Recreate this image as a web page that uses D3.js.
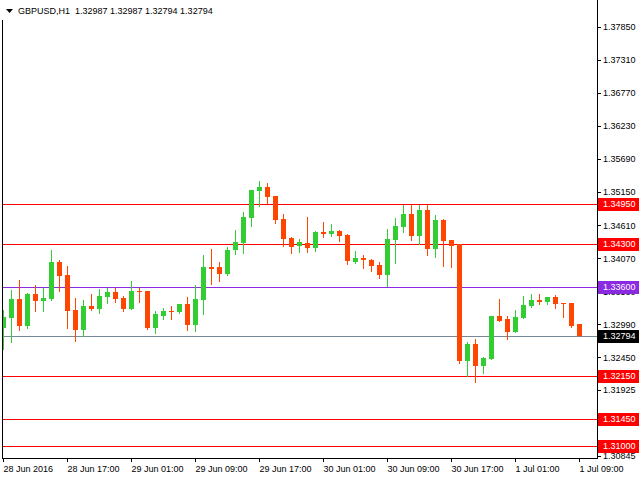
<!DOCTYPE html>
<html><head><meta charset="utf-8">
<script src="https://cdn.jsdelivr.net/npm/d3@7"></script>
<style>
html,body{margin:0;padding:0;background:#fff;}
svg{display:block;font-family:"Liberation Sans",Arial,sans-serif;font-size:9px;}
</style></head><body>
<svg id="chart" width="640" height="480"></svg>
<script>
'use strict';
const symbol = 'GBPUSD,H1';
const startTime = Date.UTC(2016, 5, 28, 9); // first hourly bar on screen
const opens  = [1.32929,1.33093,1.33403,1.32962,1.33485,1.33370,1.33403,1.34007,1.33795,1.33223,
                1.32896,1.33289,1.33240,1.33436,1.33517,1.33419,1.33240,1.33534,1.33534,1.32929,
                1.33125,1.33207,1.33191,1.33321,1.32978,1.33387,1.33926,1.33926,1.33811,1.34203,
                1.34318,1.34726,1.35167,1.35232,1.35085,1.34710,1.34399,1.34269,1.34318,1.34236,
                1.34497,1.34465,1.34514,1.34448,1.34007,1.34073,1.34040,1.33958,1.33795,1.34367,
                1.34579,1.34791,1.34432,1.34857,1.34220,1.34693,1.34367,1.34301,1.32390,1.32668,
                1.32308,1.32423,1.33125,1.33076,1.32864,1.33093,1.33289,1.33387,1.33354,1.33436,
                1.33338,1.33338,1.32987];
const highs  = [1.33223,1.33550,1.33713,1.33501,1.33632,1.33583,1.34203,1.34040,1.33942,1.33419,
                1.33387,1.33485,1.33566,1.33583,1.33583,1.33452,1.33697,1.33583,1.33534,1.33207,
                1.33256,1.33289,1.33321,1.33436,1.33632,1.34122,1.34220,1.34007,1.34252,1.34530,
                1.34824,1.35183,1.35330,1.35298,1.35085,1.34791,1.34416,1.34383,1.34742,1.34514,
                1.34661,1.34628,1.34530,1.34465,1.34187,1.34122,1.34056,1.34007,1.34546,1.34726,
                1.34938,1.34938,1.34938,1.34938,1.34775,1.34710,1.34367,1.34301,1.32700,1.32749,
                1.32455,1.33125,1.33403,1.33125,1.33223,1.33452,1.33485,1.33485,1.33436,1.33468,
                1.33338,1.33338,1.32987];
const lows   = [1.32586,1.32700,1.32896,1.32929,1.33207,1.33207,1.33387,1.33534,1.32929,1.32717,
                1.32798,1.33223,1.33174,1.33338,1.33354,1.33207,1.33240,1.33354,1.32913,1.32847,
                1.33076,1.33076,1.33174,1.32896,1.32880,1.33158,1.33648,1.33697,1.33795,1.34138,
                1.34154,1.34595,1.34922,1.34971,1.34644,1.34269,1.34154,1.34171,1.34171,1.34187,
                1.34416,1.34432,1.34350,1.33975,1.33991,1.33909,1.33860,1.33746,1.33615,1.33991,
                1.34497,1.34367,1.34301,1.34122,1.34089,1.33942,1.33926,1.32357,1.32145,1.32047,
                1.32194,1.32423,1.33044,1.32749,1.32864,1.33093,1.33272,1.33321,1.33321,1.33256,
                1.33109,1.32946,1.32794];
const closes = [1.33109,1.33403,1.32962,1.33485,1.33370,1.33419,1.34007,1.33779,1.33207,1.32896,
                1.33289,1.33240,1.33452,1.33517,1.33403,1.33240,1.33534,1.33517,1.32929,1.33158,
                1.33207,1.33191,1.33321,1.32978,1.33403,1.33926,1.33893,1.33811,1.34203,1.34334,
                1.34742,1.35183,1.35232,1.35069,1.34693,1.34383,1.34252,1.34334,1.34236,1.34497,
                1.34465,1.34514,1.34432,1.34024,1.34073,1.34040,1.33942,1.33795,1.34383,1.34595,
                1.34791,1.34432,1.34857,1.34220,1.34693,1.34350,1.34269,1.32390,1.32668,1.32308,
                1.32439,1.33125,1.33044,1.32864,1.33109,1.33305,1.33387,1.33354,1.33436,1.33321,
                1.33321,1.32962,1.32794];
const priceTicks = [1.37850,1.37310,1.36770,1.36230,1.35690,1.35150,1.34610,1.34070,1.33530,
                    1.32990,1.32450,1.31925,1.31385,1.30845];
const timeTickHours = [0,8,16,24,32,40,48,56,64,72];
const timeTickLabels = ['28 Jun 2016','28 Jun 17:00','29 Jun 01:00','29 Jun 09:00','29 Jun 17:00',
                        '30 Jun 01:00','30 Jun 09:00','30 Jun 17:00','1 Jul 01:00','1 Jul 09:00'];
const redLevels = [1.34950,1.34300,1.32150,1.31450,1.31000];
const purpleLevel = 1.33600;

const W = 640, plotR = 597, plotB = 458;
const bull = '#32cd32', bear = '#ff4500';
const HOUR = 3600e3;
const bars = opens.map((o,i) => ({ t:new Date(startTime + i*HOUR), o, h:highs[i], l:lows[i], c:closes[i] }));
const last = bars[bars.length-1];

const svg = d3.select('#chart');
const x = d3.scaleTime().domain([new Date(startTime), new Date(startTime + 72*HOUR)]).range([3, 579]);
const y = d3.scaleLinear().domain([1.30806, 1.38288]).range([plotB, 0]);
const py = v => Math.round(y(v)) + 0.5;

svg.append('defs').append('clipPath').attr('id','plot')
  .append('rect').attr('x',3).attr('y',0).attr('width',plotR-3).attr('height',plotB);

// level lines
const lines = svg.append('g').attr('shape-rendering','crispEdges');
redLevels.forEach(v => lines.append('line').attr('x1',3).attr('x2',plotR).attr('y1',py(v)).attr('y2',py(v)).attr('stroke','#ff0000'));
lines.append('line').attr('x1',3).attr('x2',plotR).attr('y1',py(purpleLevel)).attr('y2',py(purpleLevel)).attr('stroke','#8a2be2');
lines.append('line').attr('x1',3).attr('x2',plotR).attr('y1',py(last.c)).attr('y2',py(last.c)).attr('stroke','#778899');

// candles
const cg = svg.append('g').attr('clip-path','url(#plot)').attr('shape-rendering','crispEdges');
const candle = cg.selectAll('g').data(bars).join('g');
candle.append('line')
  .attr('x1',d=>x(d.t)+0.5).attr('x2',d=>x(d.t)+0.5)
  .attr('y1',d=>Math.round(y(d.h))).attr('y2',d=>Math.round(y(d.l))+1)
  .attr('stroke',d=>d.c>=d.o?bull:bear);
candle.append('rect')
  .attr('x',d=>x(d.t)-2).attr('width',5)
  .attr('y',d=>Math.round(y(Math.max(d.o,d.c))))
  .attr('height',d=>Math.max(1, Math.round(y(Math.min(d.o,d.c))) - Math.round(y(Math.max(d.o,d.c)))))
  .attr('fill',d=>d.c>=d.o?bull:bear);

// frame
const frame = svg.append('g').attr('stroke','#000').attr('shape-rendering','crispEdges');
frame.append('line').attr('x1',2.5).attr('x2',2.5).attr('y1',20).attr('y2',plotB+0.5);
frame.append('line').attr('x1',2).attr('x2',plotR+1).attr('y1',plotB+0.5).attr('y2',plotB+0.5);

// price axis
const ya = svg.append('g').attr('transform',`translate(${plotR},0)`)
  .call(d3.axisRight(y).tickValues(priceTicks).tickFormat(d3.format('.5f')).tickSize(4).tickSizeOuter(0).tickPadding(2));
ya.attr('font-family',null).attr('font-size',null).attr('shape-rendering','crispEdges');
ya.select('.domain').attr('d',`M0.5,0V${plotB+1}`);
ya.selectAll('text').attr('fill','#000');

// time axis
const xa = svg.append('g').attr('transform',`translate(0,${plotB})`)
  .call(d3.axisBottom(x).tickValues(timeTickHours.map(h=>new Date(startTime + h*HOUR)))
    .tickFormat((d,i)=>timeTickLabels[i]).tickSize(4).tickPadding(4));
xa.attr('font-family',null).attr('font-size',null).attr('shape-rendering','crispEdges');
xa.select('.domain').remove();
xa.selectAll('text').attr('text-anchor','start').attr('x',0).attr('fill','#000');

// price labels on the axis
function tag(v, fill) {
  const g = svg.append('g').attr('transform',`translate(598,${Math.round(y(v))})`);
  g.append('rect').attr('x',0).attr('y',-6).attr('width',41).attr('height',13).attr('fill',fill);
  g.append('text').attr('x',5).attr('y',0.5).attr('dy','0.32em').attr('fill','#fff').text(d3.format('.5f')(v));
}
redLevels.forEach(v => tag(v,'#ff0000'));
tag(purpleLevel,'#8a2be2');
tag(last.c,'#000');

// header
svg.append('path').attr('d','M6,9L13,9L9.5,13Z').attr('fill','#000');
const f = d3.format('.5f');
svg.append('text').attr('x',18).attr('y',14).style('white-space','pre').attr('fill','#000')
  .text(`${symbol}  ${f(last.o)} ${f(last.h)} ${f(last.l)} ${f(last.c)}`);
</script>
</body></html>
